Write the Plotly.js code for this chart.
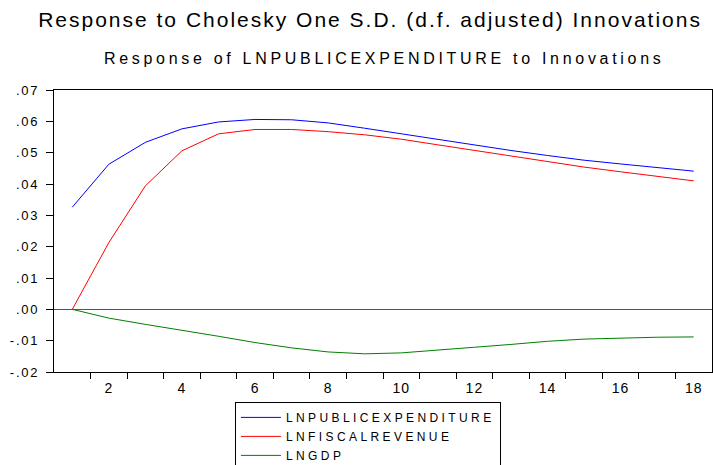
<!DOCTYPE html>
<html><head><meta charset="utf-8">
<script src="https://cdn.plot.ly/plotly-3.0.1.min.js"></script>
<style>body{margin:0;background:#fff}#c{width:713px;height:465px}.legendtext{letter-spacing:3.4px}</style>
</head><body><div id="c"></div>
<script>
const periods = [1,2,3,4,5,6,7,8,9,10,11,12,13,14,15,16,17,18];
const publicExpenditure = [0.0326,0.0463,0.0533,0.0576,0.0598,0.0606,0.0605,0.0595,0.0578,0.0560,0.0541,0.0524,0.0507,0.0491,0.0476,0.0464,0.0452,0.0441];
const fiscalRevenue = [0.0000,0.0213,0.0394,0.0506,0.0560,0.0574,0.0574,0.0567,0.0557,0.0543,0.0525,0.0507,0.0489,0.0471,0.0454,0.0439,0.0424,0.0410];
const gdp = [0.0000,-0.0028,-0.0048,-0.0066,-0.0086,-0.0106,-0.0123,-0.0136,-0.0142,-0.0139,-0.0131,-0.0121,-0.0112,-0.0102,-0.0095,-0.0091,-0.0089,-0.0088];
const seriesNames = ["LNPUBLICEXPENDITURE","LNFISCALREVENUE","LNGDP"];
const yTickVals = [-0.02,-0.01,0,0.01,0.02,0.03,0.04,0.05,0.06,0.07];
const yTickText = ["-.02","-.01",".00",".01",".02",".03",".04",".05",".06",".07"];
const xTickVals = [2,4,6,8,10,12,14,16,18];
const xMinorTicks = [1.5,2.5,3.5,4.5,5.5,6.5,7.5,8.5,9.5,10.5,11.5,12.5,13.5,14.5,15.5,16.5,17.5];

const font = "Arial, 'Liberation Sans', sans-serif";
const mk = (y, name, color) => ({x: periods, y: y, name: name, type: 'scatter', mode: 'lines', line: {color: color, width: 1}});
const data = [
  mk(publicExpenditure, seriesNames[0], '#0000ff'),
  mk(fiscalRevenue, seriesNames[1], '#ff0000'),
  mk(gdp, seriesNames[2], '#008000')
];
const layout = {
  width: 713, height: 465,
  margin: {l: 54, r: 1, t: 90, b: 93, autoexpand: false},
  paper_bgcolor: '#fff', plot_bgcolor: '#fff',
  font: {family: font, color: '#000', size: 13},
  title: {text: 'Response to Cholesky One S.D. (d.f. adjusted) Innovations', font: {size: 21, family: font, color: '#000'}, x: 0.519, xanchor: 'center', y: 0.958, yanchor: 'middle'},
  annotations: [{text: 'Response of LNPUBLICEXPENDITURE to Innovations', xref: 'paper', yref: 'paper', x: 0.5016, y: 1.112, xanchor: 'center', yanchor: 'middle', showarrow: false, font: {size: 16, family: font, color: '#000'}}],
  xaxis: {range: [0.5, 18.5], tickvals: xTickVals, ticktext: xTickVals.map(String), ticks: '', showgrid: false, zeroline: false,
          showline: true, mirror: true, linecolor: '#000', linewidth: 1, ticklabelstandoff: 3,
          minor: {tickvals: xMinorTicks, ticks: 'outside', ticklen: 6, tickcolor: '#000', showgrid: false},
          tickfont: {size: 14}},
  yaxis: {range: [-0.02, 0.07], tickvals: yTickVals, ticktext: yTickText, ticks: 'outside', ticklen: 7, tickcolor: '#000',
          showgrid: false, zeroline: true, zerolinecolor: '#555', zerolinewidth: 1, ticklabelstandoff: 4,
          showline: true, mirror: true, linecolor: '#000', linewidth: 1, tickfont: {size: 13}},
  showlegend: true,
  legend: {x: 0.275, y: -0.106, xanchor: 'left', yanchor: 'top', bordercolor: '#000', borderwidth: 1, bgcolor: '#fff',
           font: {size: 12, family: font}, tracegroupgap: 0, itemwidth: 40, maxheight: 300}
};
Plotly.newPlot('c', data, layout, {displayModeBar: false, staticPlot: true}).then(gd => {
  const sp = (sel, v) => gd.querySelectorAll(sel).forEach(el => { el.style.letterSpacing = v + 'px'; });
  sp('.gtitle', 2);
  sp('.annotation-text', 3.7);
  sp('.ytick text', 1.8);
  sp('.xtick text', 1);
});
</script></body></html>
